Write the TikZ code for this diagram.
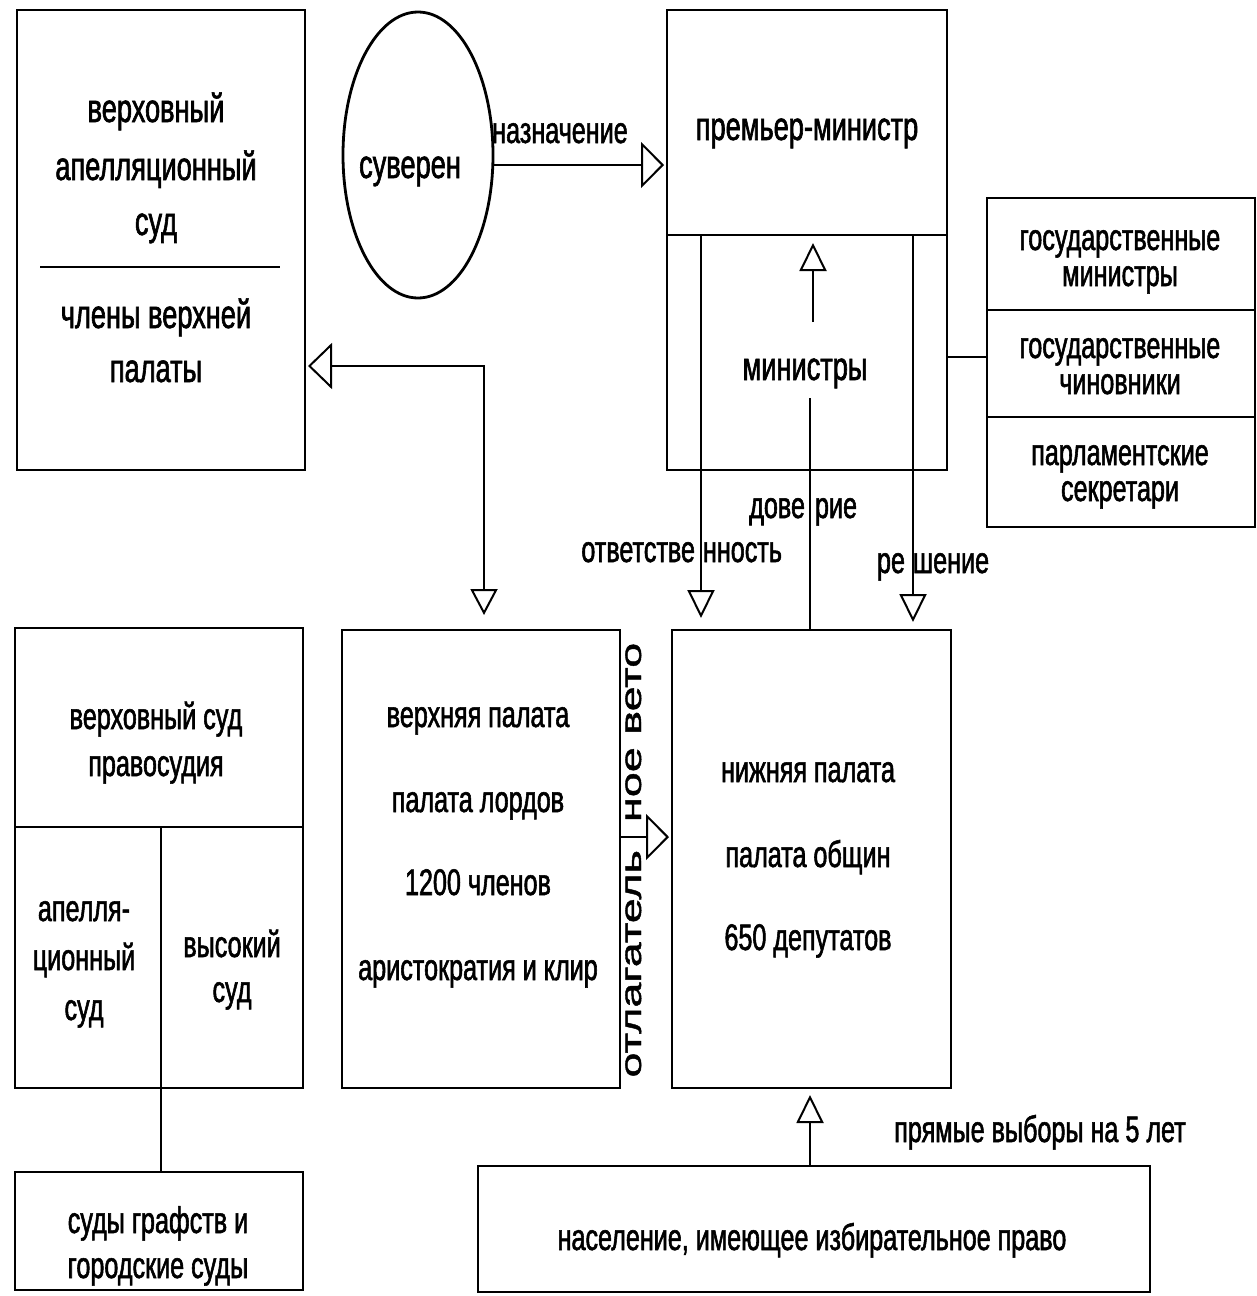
\documentclass[tikz,border=0pt]{standalone}
\usepackage{fontspec}
\setmainfont{Liberation Sans}[FakeStretch=0.68,FakeBold=1.5]
\newfontfamily\vertfont{Liberation Sans}[FakeStretch=1.55,FakeBold=1.5]
\usetikzlibrary{arrows.meta,shapes.geometric}
\begin{document}
\begin{tikzpicture}[x=1pt,y=-1pt,
  line width=2.8pt,
  box/.style={draw,rectangle,inner sep=0pt,outer sep=0pt},
  lab/.style={inner sep=0pt,outer sep=0pt,anchor=base,font=\fontsize{37}{44}\selectfont},
  big/.style={lab,font=\fontsize{40}{48}\selectfont},
  vlab/.style={inner sep=0pt,outer sep=0pt,rotate=90,font=\vertfont\fontsize{29}{36}\selectfont},
  arrH/.style={-{Triangle[open,length=23pt,width=46pt,line width=2pt]}},
  arrV/.style={-{Triangle[open,length=28pt,width=27pt,line width=2pt]}},
]
\useasboundingbox (0,0) rectangle (1257,1296);

% boxes
\node[box,minimum width=288pt,minimum height=460pt] (A) at (161,240) {};
\node[box,ellipse,minimum width=150pt,minimum height=286pt] (S) at (418,155) {};
\node[box,minimum width=280pt,minimum height=460pt] (PM) at (807,240) {};
\node[box,minimum width=268pt,minimum height=112pt] (SM1) at (1121,254) {};
\node[box,minimum width=268pt,minimum height=107pt] (SM2) at (1121,363.5) {};
\node[box,minimum width=268pt,minimum height=110pt] (SM3) at (1121,472) {};
\node[box,minimum width=288pt,minimum height=460pt] (SC) at (159,858) {};
\node[box,minimum width=288pt,minimum height=118pt] (CC) at (159,1231) {};
\node[box,minimum width=278pt,minimum height=458pt] (UH) at (481,859) {};
\node[box,minimum width=279pt,minimum height=458pt] (LH) at (811.5,859) {};
\node[box,minimum width=672pt,minimum height=126pt] (POP) at (814,1229) {};

% dividers
\draw (40,267) -- (280,267);
\draw (PM.west |- 0,235) -- (PM.east |- 0,235);
\draw (SC.west |- 0,827) -- (SC.east |- 0,827);
\coordinate (cv) at (161,827);
\draw (cv) -- (cv |- SC.south);

% connectors
\draw (cv |- SC.south) -- (cv |- CC.north);
\draw[arrH,shorten >=3pt] (S.east |- 0,165) -- (PM.west |- 0,165);
\coordinate (bend) at (484,366);
\draw[{Triangle[open,length=24pt,width=46pt,line width=2pt]}-{Triangle[open,length=26pt,width=27pt,line width=2pt]},shorten <=3pt,shorten >=15pt]
  (A.east |- bend) -- (bend) -- (bend |- UH.north);
\coordinate (rL) at (701,235);
\coordinate (rR) at (913,235);
\draw[arrV,shorten >=12pt] (rL) -- (rL |- LH.north);
\draw[arrV,shorten >=8pt] (rR) -- (rR |- LH.north);
\coordinate (mB) at (813,322);
\draw[arrV,shorten >=8pt] (mB) -- (mB |- rL);
\coordinate (dT) at (810,398);
\draw (dT) -- (dT |- LH.north);
\draw (PM.east |- 0,357) -- (SM2.west |- 0,357);
\draw[arrH,shorten >=3pt] (UH.east |- 0,837) -- (LH.west |- 0,837);
\coordinate (pv) at (810,1166);
\draw[arrV,shorten >=7pt] (pv |- POP.north) -- (pv |- LH.south);

% texts
\node[big] (tA1) at (156,122) {верховный};
\node[big] (tA2) at (156,180) {апелляционный};
\node[big] (tA3) at (156,235) {суд};
\node[big] (tA4) at (156,328) {члены верхней};
\node[big] (tA5) at (156,382) {палаты};
\node[big] (tS) at (410,178) {суверен};
\node[lab] (tN) at (560,143) {назначение};
\node[big] (tPM) at (807,140) {премьер-министр};
\node[big] (tM) at (805,380) {министры};
\node[lab] (tG1) at (1120,250) {государственные};
\node[lab] (tG2) at (1120,286) {министры};
\node[lab] (tG3) at (1120,358) {государственные};
\node[lab] (tG4) at (1120,394) {чиновники};
\node[lab] (tG5) at (1120,465) {парламентские};
\node[lab] (tG6) at (1120,501) {секретари};
\node[lab,anchor=base east] (tD1) at (805,518) {дове};
\node[lab,anchor=base west] (tD2) at (815,518) {рие};
\node[lab,anchor=base east] (tO1) at (695,562) {ответстве};
\node[lab,anchor=base west] (tO2) at (703,562) {нность};
\node[lab,anchor=base east] (tR1) at (905,573) {ре};
\node[lab,anchor=base west] (tR2) at (913,573) {шение};
\node[lab] (tC1) at (156,729) {верховный суд};
\node[lab] (tC2) at (156,776) {правосудия};
\node[lab] (tC3) at (84,921) {апелля-};
\node[lab] (tC4) at (84,970) {ционный};
\node[lab] (tC5) at (84,1020) {суд};
\node[lab] (tC6) at (232,957) {высокий};
\node[lab] (tC7) at (232,1002) {суд};
\node[lab] (tC8) at (158,1233) {суды графств и};
\node[lab] (tC9) at (158,1278) {городские суды};
\node[lab] (tU1) at (478,727) {верхняя палата};
\node[lab] (tU2) at (478,812) {палата лордов};
\node[lab] (tU3) at (478,895) {1200 членов};
\node[lab] (tU4) at (478,980) {аристократия и клир};
\node[lab] (tL1) at (808,782) {нижняя палата};
\node[lab] (tL2) at (808,867) {палата общин};
\node[lab] (tL3) at (808,950) {650 депутатов};
\node[lab] (tP) at (812,1250) {население, имеющее избирательное право};
\node[lab] (tE) at (1040,1142) {прямые выборы на 5 лет};
\node[vlab,anchor=base east] (tV1) at (641,850) {отлагатель};
\node[vlab,anchor=base west] (tV2) at (641,822) {ное вето};
\end{tikzpicture}
\end{document}
